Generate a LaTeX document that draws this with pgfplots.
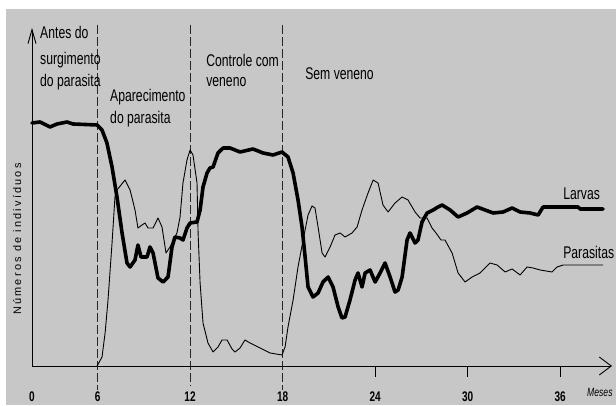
\documentclass[border=0pt]{standalone}
\usepackage{fontspec}
\setmainfont{Liberation Sans}[FakeStretch=0.72]
\newfontfamily\ylabfont{Liberation Sans}[LetterSpace=20]
\usepackage{pgfplots}
\pgfplotsset{compat=1.18}
\usetikzlibrary{arrows.meta}
\definecolor{bg}{RGB}{199,199,199}
\newcommand\lbl{\fontsize{17}{17}\selectfont}
\begin{document}
\begin{tikzpicture}[x=1bp,y=1bp]
\fill[white] (0,0) rectangle (616,405);
\fill[bg] (6,0) rectangle (616,396);
\begin{axis}[
 at={(32bp,39bp)}, anchor=south west,
 scale only axis, width=580bp, height=338bp,
 xmin=1.75, xmax=39.36, ymin=0, ymax=338,
 axis x line=bottom, axis y line=left,
 axis line style={line width=0.9bp},
 x axis line style={-{Straight Barb[length=12bp,width=18bp]}},
 y axis line style={-{Straight Barb[length=14bp,width=8bp]}},
 ytick=\empty,
 xtick={24,30,36}, xticklabels={24,30,36},
 extra x ticks={1.75,6,12,18}, extra x tick labels={0,6,12,18},
 extra x tick style={major tick style={draw=none}},
 tick align=outside, major tick length=11bp,
 tick style={line width=0.9bp, black},
 xticklabel style={anchor=base, font=\fontsize{14}{14}\selectfont\bfseries, yshift=-25bp},
 clip=false,
]
\draw[dash pattern=on 9bp off 3bp, line width=0.8bp, black!85] (axis cs:6,341) -- (axis cs:6,-24);
\draw[dash pattern=on 9bp off 3bp, line width=0.8bp, black!85] (axis cs:12,341) -- (axis cs:12,-20);
\draw[dash pattern=on 9bp off 3bp, line width=0.8bp, black!85] (axis cs:18,341) -- (axis cs:18,-24);

% Larvas
\addplot[line width=3.6bp, line join=round, line cap=round, black] coordinates {
(1.75,243)(2.27,244)(2.92,239)(3.37,242)(4.02,244)(4.41,242)(5.97,241)(6.29,236)(6.61,223)(6.94,199)(7.26,169)(7.59,133)(7.91,103)(8.11,99)(8.43,106)(8.62,121)(8.82,109)(9.21,109)(9.40,119)(9.60,113)(9.92,88)(10.25,84)(10.57,89)(10.83,119)(11.02,129)(11.35,128)(11.54,126)(11.80,138)(12.00,143)(12.45,144)(12.65,156)(12.84,179)(13.10,193)(13.29,198)(13.49,199)(13.81,213)(14.14,218)(14.59,218)(15.24,214)(16.08,217)(16.73,213)(17.38,211)(17.96,214)(18.35,209)(18.68,193)(19.00,166)(19.26,139)(19.46,109)(19.65,79)(19.97,69)(20.30,73)(20.62,84)(20.95,89)(21.27,79)(21.60,59)(21.85,48)(22.05,49)(22.37,66)(22.70,86)(22.89,93)(23.15,79)(23.35,93)(23.67,96)(24.00,84)(24.32,93)(24.64,103)(24.97,89)(25.29,74)(25.49,76)(25.75,89)(26.07,126)(26.26,133)(26.59,123)(26.78,126)(27.04,144)(27.37,153)(27.76,156)(28.08,159)(28.34,161)(28.86,156)(29.38,149)(29.96,153)(30.61,159)(31.13,156)(31.65,153)(32.30,154)(32.88,158)(33.40,154)(34.05,153)(34.57,151)(34.89,159)(35.54,159)(37.16,159)(37.29,157)(38.78,157)
};
% Parasitas
\addplot[line width=0.9bp, line join=round, black] coordinates {
(5.97,0)(6.29,9)(6.49,33)(6.68,66)(6.94,123)(7.13,169)(7.26,176)(7.78,186)(8.11,176)(8.43,156)(8.62,138)(8.88,141)(9.08,143)(9.27,138)(9.60,138)(9.92,148)(10.18,139)(10.44,113)(10.70,119)(11.15,133)(11.35,149)(11.54,183)(11.80,206)(12.00,216)(12.19,211)(12.45,183)(12.52,133)(12.65,83)(12.84,43)(13.16,23)(13.49,14)(13.81,19)(14.07,26)(14.40,26)(14.72,17)(14.92,14)(15.24,18)(15.56,26)(15.89,23)(16.54,18)(17.19,13)(17.96,11)(18.16,19)(18.35,39)(18.68,66)(19.00,99)(19.33,126)(19.65,151)(19.91,160)(20.10,158)(20.30,139)(20.56,113)(20.75,109)(21.08,119)(21.40,131)(21.73,133)(22.05,129)(22.50,133)(22.83,139)(23.15,156)(23.54,173)(23.87,186)(24.19,183)(24.51,161)(24.84,154)(25.29,163)(25.75,169)(26.13,166)(26.59,154)(26.91,148)(27.37,148)(27.69,138)(27.95,133)(28.27,126)(28.53,126)(28.99,113)(29.38,93)(29.83,84)(30.29,89)(30.80,93)(31.45,103)(31.91,101)(32.43,94)(32.88,97)(33.40,91)(33.85,99)(34.24,98)(34.70,96)(35.47,94)(35.80,99)(36.19,101)(38.78,101)
};

\node[anchor=base west, inner sep=0] at (axis cs:2.27,327) {\lbl Antes do};
\node[anchor=base west, inner sep=0] at (axis cs:2.27,301) {\lbl surgimento};
\node[anchor=base west, inner sep=0] at (axis cs:2.27,279) {\lbl do parasita};
\node[anchor=base west, inner sep=0] at (axis cs:6.81,264) {\lbl Aparecimento};
\node[anchor=base west, inner sep=0] at (axis cs:6.81,242) {\lbl do parasita};
\node[anchor=base west, inner sep=0] at (axis cs:13.04,299) {\lbl Controle com};
\node[anchor=base west, inner sep=0] at (axis cs:13.04,279) {\lbl veneno};
\node[anchor=base west, inner sep=0] at (axis cs:19.46,286) {\lbl Sem veneno};
\node[anchor=base west, inner sep=0] at (axis cs:36.19,166) {\lbl Larvas};
\node[anchor=base west, inner sep=0] at (axis cs:36.19,107) {\lbl Parasitas};
\node[anchor=base west, inner sep=0] at (axis cs:37.74,-31) {\fontsize{12}{12}\selectfont\itshape Meses};
\node[rotate=90, inner sep=0] at (axis cs:0.78,127) {\ylabfont\fontsize{11}{11}\selectfont Números de indivíduos};
\end{axis}
\end{tikzpicture}
\end{document}
